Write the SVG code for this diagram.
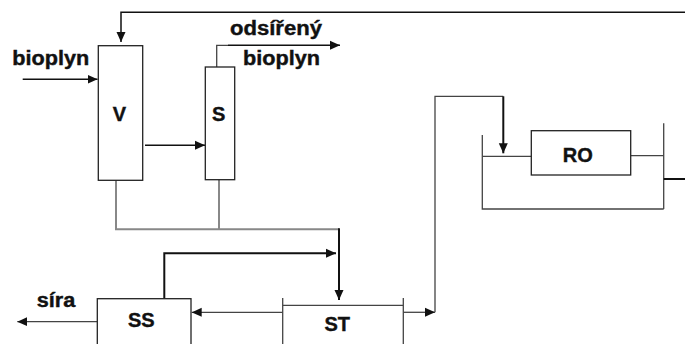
<svg xmlns="http://www.w3.org/2000/svg" width="685" height="344" viewBox="0 0 685 344">
<style>
.t{font-family:"Liberation Sans",Arial,sans-serif;font-weight:bold;font-size:20px;fill:#111;stroke:#111;stroke-width:0.4}
.box{fill:#fff;stroke:#222;stroke-width:1.3}
.k{fill:none;stroke:#111;stroke-width:1.5}
.kb{fill:none;stroke:#111;stroke-width:2}
.g{fill:none;stroke:#888;stroke-width:2}
.d{fill:none;stroke:#444;stroke-width:1.3}
</style>
<defs>
<marker id="a" markerUnits="userSpaceOnUse" markerWidth="10" markerHeight="10" viewBox="0 0 10 10" refX="10" refY="5" orient="auto">
<path d="M0,0.5 L10,5 L0,9.5 Z" fill="#111"/>
</marker>
</defs>
<rect width="685" height="344" fill="#fff"/>
<g id="connectors">
<polyline class="k" points="685,12.3 121,12.3 121,42" marker-end="url(#a)"/>
<line class="k" x1="22.7" y1="79.3" x2="97.5" y2="79.3" marker-end="url(#a)"/>
<line class="k" x1="145" y1="145.3" x2="205" y2="145.3" marker-end="url(#a)"/>
<polyline class="d" points="216.7,67 216.7,45.3 228,45.3"/>
<line class="k" x1="228" y1="45.3" x2="340" y2="45.3" marker-end="url(#a)"/>
<polyline class="g" points="116,180.3 116,229.3 339,229.3"/>
<line class="g" x1="219" y1="179.7" x2="219" y2="229.3"/>
<line class="kb" x1="339" y1="228.3" x2="339" y2="300" marker-end="url(#a)"/>
<polyline class="kb" points="164.3,298.7 164.3,253.3 336,253.3" marker-end="url(#a)"/>
<line class="d" x1="282.7" y1="312.3" x2="191.7" y2="312.3" marker-end="url(#a)"/>
<line class="d" x1="97.3" y1="321.7" x2="17.3" y2="321.7" marker-end="url(#a)"/>
<line class="d" x1="403.3" y1="312.3" x2="435" y2="312.3" marker-end="url(#a)"/>
<polyline class="d" points="435,312.3 435,96.3 503.3,96.3"/>
<line class="kb" x1="503.3" y1="96.3" x2="503.3" y2="153.3" marker-end="url(#a)"/>
<polyline class="d" points="482.3,135 482.3,209 663.7,209"/>
<line class="d" x1="482.3" y1="156.3" x2="531.3" y2="156.3"/>
<line class="d" x1="630.7" y1="155.7" x2="663.7" y2="155.7"/>
<line class="d" x1="663.7" y1="123.3" x2="663.7" y2="209"/>
<line class="kb" x1="663.7" y1="179" x2="685" y2="179"/>
</g>
<g id="labels">
<text class="t" x="12.3" y="65" textLength="77" lengthAdjust="spacingAndGlyphs">bioplyn</text>
<text class="t" x="230" y="34.5" textLength="92" lengthAdjust="spacingAndGlyphs">odsířený</text>
<text class="t" x="243" y="65" textLength="77" lengthAdjust="spacingAndGlyphs">bioplyn</text>
<text class="t" x="36.7" y="306.7" textLength="38.6" lengthAdjust="spacingAndGlyphs">síra</text>
</g>
<g id="V">
<rect class="box" x="98.3" y="45.7" width="44.4" height="134.6"/>
<text class="t" x="119.5" y="120.7" text-anchor="middle">V</text>
</g>
<g id="S">
<rect class="box" x="205.3" y="67" width="29.4" height="112.7"/>
<text class="t" x="218.7" y="120.7" text-anchor="middle">S</text>
</g>
<g id="RO">
<rect class="box" x="531.3" y="130.7" width="99.4" height="44.3"/>
<text class="t" x="577.7" y="161.7" text-anchor="middle">RO</text>
</g>
<g id="SS">
<rect class="box" x="97.3" y="298.7" width="93.7" height="60"/>
<text class="t" x="141.3" y="326.7" text-anchor="middle">SS</text>
</g>
<g id="ST">
<path class="d" d="M282.7,298 V350 M403.3,298 V350 M282.7,305.3 H403.3"/>
<text class="t" x="337.3" y="330.7" text-anchor="middle">ST</text>
</g>
</svg>
